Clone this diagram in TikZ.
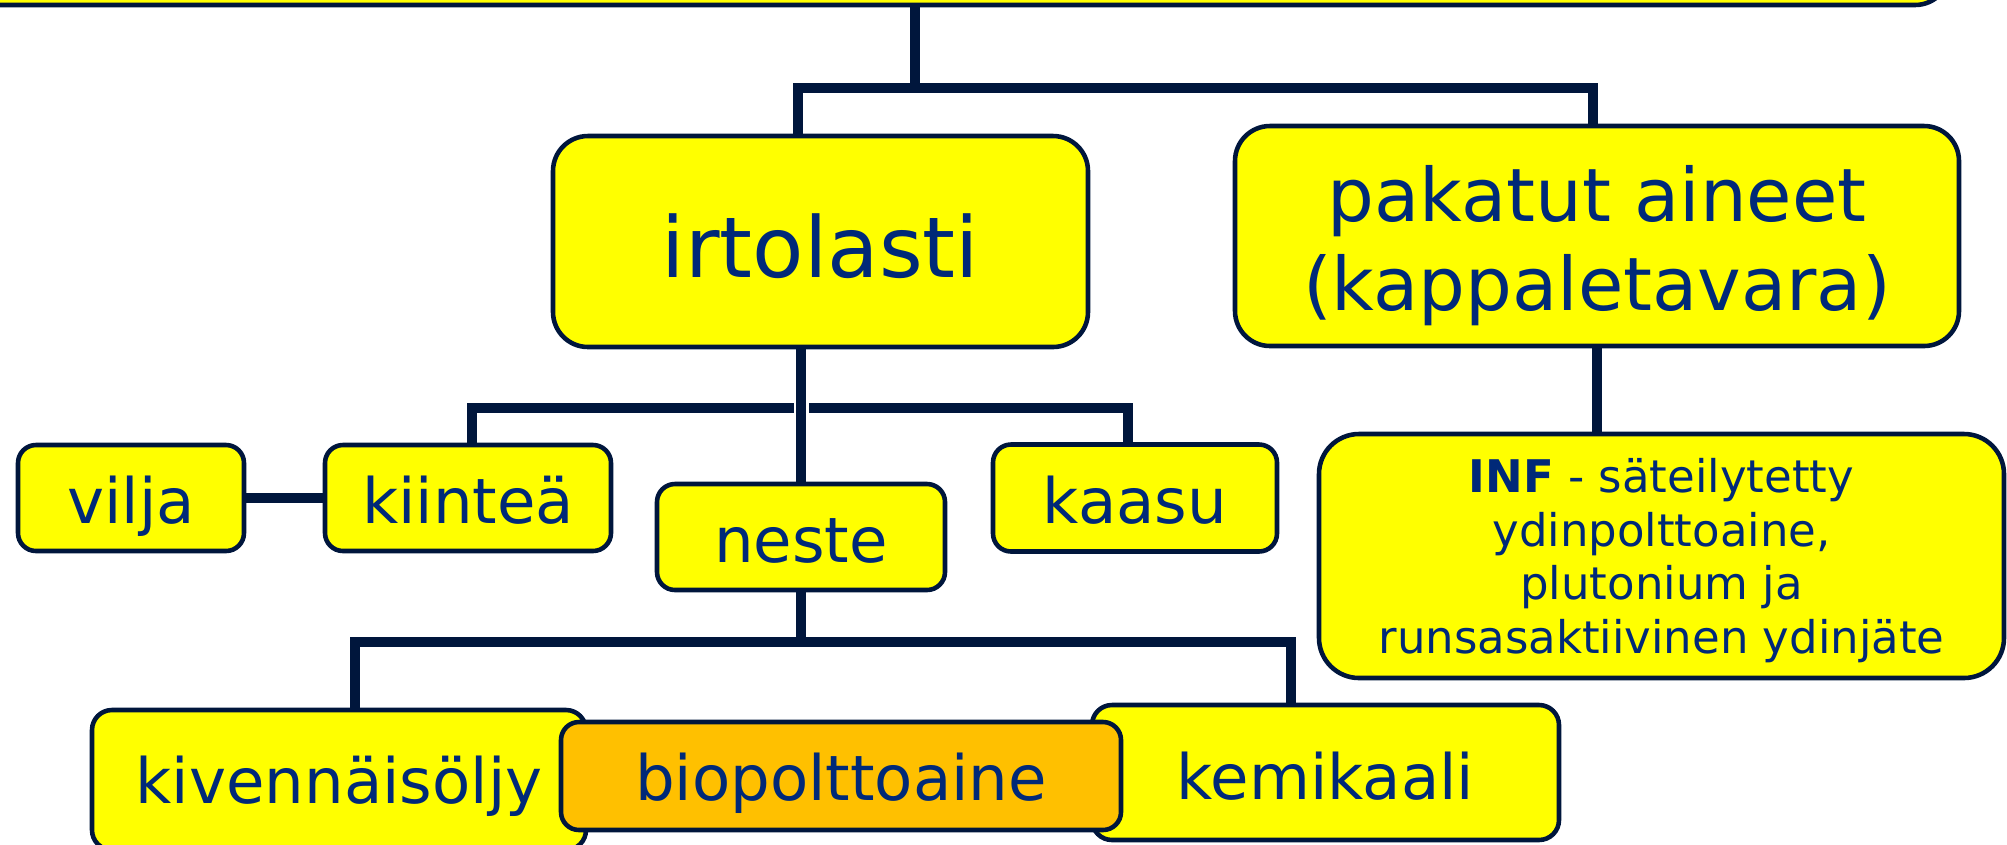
\documentclass[tikz,border=0pt]{standalone}
\usepackage{fontspec}
\setmainfont{DejaVu Sans}
\usetikzlibrary{calc,backgrounds}
\definecolor{yel}{RGB}{255,255,0}
\definecolor{org}{RGB}{255,192,0}
\definecolor{bordc}{RGB}{0,22,60}
\definecolor{txtc}{RGB}{0,41,120}
\begin{document}
\begin{tikzpicture}[x=0.1mm,y=-0.1mm,
  box/.style={draw=bordc, line width=1.3pt, fill=yel, rounded corners=1.8mm, inner sep=0pt, outer sep=0pt},
  bigbox/.style={box, rounded corners=3.5mm},
  conn/.style={draw=bordc, line width=2.85pt, line join=miter},
  txt/.style={text=txtc, inner sep=0pt, outer sep=0pt, anchor=base, align=center},
  smalltxt/.style={txt, font=\fontsize{17.8pt}{21pt}\selectfont},
  bigtxt/.style={txt, font=\fontsize{23.9pt}{28pt}\selectfont},
  paktxt/.style={txt, font=\fontsize{21pt}{25.3pt}\selectfont},
  inftxt/.style={txt, font=\fontsize{12.8pt}{15.2pt}\selectfont}
]
\useasboundingbox (0,0) rectangle (2007,844);
\clip (0,0) rectangle (2007,844);

% boxes
\node[bigbox, minimum width=205mm, minimum height=20.5mm] (top) at (925,-97.5) {};
\node[bigbox, minimum width=53.5mm, minimum height=21.1mm] (irt) at (820.5,241.5) {};
\node[bigbox, minimum width=72.4mm, minimum height=22.0mm] (pak) at (1597,236) {};
\node[box, minimum width=22.6mm, minimum height=10.6mm] (vilja) at (131,498) {};
\node[box, minimum width=28.6mm, minimum height=10.6mm] (kiint) at (468,498) {};
\node[box, minimum width=28.4mm, minimum height=10.7mm] (kaasu) at (1135,498) {};
\node[box, minimum width=28.8mm, minimum height=10.6mm] (neste) at (801,537) {};
\node[box, rounded corners=4mm, minimum width=68.5mm, minimum height=24.4mm] (inf) at (1661.5,556) {};
\node[box, rounded corners=2mm, minimum width=49.4mm, minimum height=14.0mm] (kiv) at (339,780) {};
\node[box, rounded corners=2mm, minimum width=46.7mm, minimum height=13.5mm] (kem) at (1325.5,772.5) {};
\node[box, fill=org, minimum width=56.0mm, minimum height=10.8mm] (bio) at (841,776) {};

% texts (base anchor = baseline of the last line)
\node[bigtxt] (tirt) at (820.5,277) {irtolasti};
\node[paktxt] (tpak) at (1597,310) {pakatut aineet\\(kappaletavara)};
\node[smalltxt] (tvilja) at (131,523) {vilja};
\node[smalltxt] (tkiint) at (468,523) {kiinteä};
\node[smalltxt] (tkaasu) at (1135,523) {kaasu};
\node[smalltxt] (tneste) at (801,562) {neste};
\node[inftxt] (tinf) at (1661.5,653) {\textbf{INF} - säteilytetty\\ydinpolttoaine,\\plutonium ja\\runsasaktiivinen ydinjäte};
\node[smalltxt] (tkiv) at (339,803) {kivennäisöljy};
\node[smalltxt] (tbio) at (841,800) {biopolttoaine};
\node[smalltxt] (tkem) at (1325.5,799) {kemikaali};

% junction coordinates
\coordinate (j0) at (915,88);
\coordinate (barL) at (798,88);
\coordinate (barR) at (1593,88);
\coordinate (b2L) at (472,408);
\coordinate (b2R) at (1128,408);
\coordinate (gapL) at (794,408);
\coordinate (gapR) at (809,408);
\coordinate (b3L) at (355,642);
\coordinate (b3R) at (1291,642);

\begin{scope}[on background layer]
\draw[conn] (top.south -| j0) -- (j0);
\draw[conn] (irt.north -| barL) -- (barL) -- (barR) -- (pak.north -| barR);
\draw[conn] (neste.north |- irt.south) -- (neste.north);
\draw[conn] (kiint.north -| b2L) -- (b2L) -- (gapL);
\draw[conn] (gapR) -- (b2R) -- (kaasu.north -| b2R);
\draw[conn] (vilja.east) -- (kiint.west);
\draw[conn] (pak.south) -- (pak.south |- inf.north);
\draw[conn] (neste.south) -- (neste.south |- b3L);
\draw[conn] (kiv.north -| b3L) -- (b3L) -- (b3R) -- (kem.north -| b3R);
\end{scope}
\end{tikzpicture}
\end{document}
